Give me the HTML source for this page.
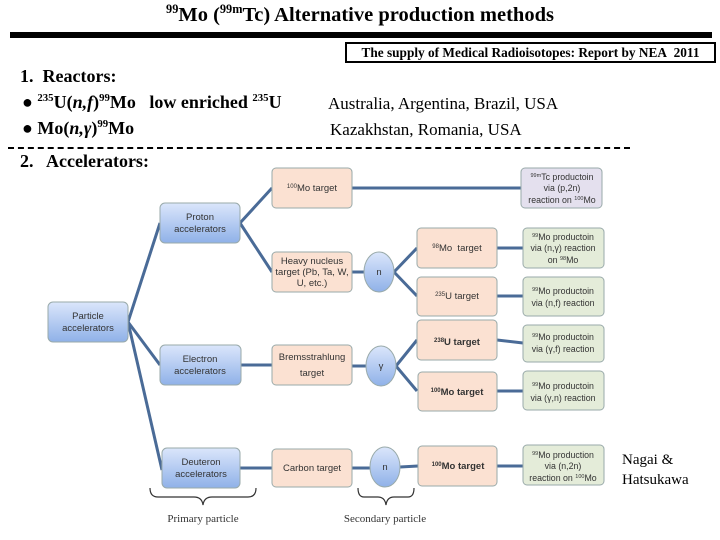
<!DOCTYPE html>
<html><head><meta charset="utf-8"><style>
body{margin:0;background:#fff;width:720px;height:540px;overflow:hidden;position:relative;font-family:"Liberation Serif",serif}
.t{position:absolute;white-space:nowrap}
sup{font-size:60%}
</style></head><body>
<div class="t" style="left:0;width:720px;text-align:center;top:2px;font-size:20.5px;font-weight:bold"><sup>99</sup>Mo (<sup>99m</sup>Tc) Alternative production methods</div>
<div style="position:absolute;left:10px;top:32px;width:702px;height:6px;background:#000"></div>
<div class="t" style="left:345px;top:42px;width:371px;height:21px;border:2px solid #000;box-sizing:border-box;font-size:13.3px;font-weight:bold;text-align:center;line-height:17px">The supply of Medical Radioisotopes: Report by NEA&nbsp; 2011</div>
<div class="t" style="left:20px;top:66px;font-size:18px;font-weight:bold">1.&nbsp; Reactors:</div>
<div class="t" style="left:22px;top:92px;font-size:18px;font-weight:bold">● <sup>235</sup>U(<i>n,f</i>)<sup>99</sup>Mo&nbsp;&nbsp; low enriched <sup>235</sup>U</div>
<div class="t" style="left:328px;top:94px;font-size:17px">Australia, Argentina, Brazil, USA</div>
<div class="t" style="left:22px;top:118px;font-size:18px;font-weight:bold">● Mo(<i>n,γ</i>)<sup>99</sup>Mo</div>
<div class="t" style="left:330px;top:120px;font-size:17px">Kazakhstan, Romania, USA</div>
<div style="position:absolute;left:8px;top:147px;width:622px;border-top:2px dashed #000"></div>
<div class="t" style="left:20px;top:151px;font-size:18px;font-weight:bold">2.&nbsp;&nbsp; Accelerators:</div>
<div class="t" style="left:622px;top:450px;font-size:15px;line-height:20px">Nagai &amp;<br>Hatsukawa</div>
<svg width="720" height="540" style="position:absolute;left:0;top:0" font-family="Liberation Sans,sans-serif" font-size="9.5" text-anchor="middle">
<defs>
<linearGradient id="b" x1="0" y1="0" x2="0" y2="1"><stop offset="0" stop-color="#dbe6fb"/><stop offset="1" stop-color="#8fb1e8"/></linearGradient>
</defs>
<g stroke="#4a6b97" stroke-width="3" fill="none">
<path d="M128 322L160 223M128 322L160 365M128 322L162 470"/>
<path d="M240 223L272 188M240 223L272 272"/>
<path d="M352 188L521 188M352 272L364 272M394 272L417 248M394 272L417 296"/>
<path d="M497 248L523 248M497 296L523 296M497 340L523 343M497 391L523 391"/>
<path d="M241 365L272 365M352 366L366 366M396 366L417 340M396 366L417 391"/>
<path d="M240 468L272 468M352 468L370 468M400 467L418 466M497 466L523 466"/>
</g>
<g stroke="#9aa" stroke-width="1">
<rect x="48" y="302" width="80" height="40" rx="5" fill="url(#b)"/>
<rect x="160" y="203" width="80" height="40" rx="5" fill="url(#b)"/>
<rect x="160" y="345" width="81" height="40" rx="5" fill="url(#b)"/>
<rect x="162" y="448" width="78" height="40" rx="5" fill="url(#b)"/>
<g fill="#fbe1d2">
<rect x="272" y="168" width="80" height="40" rx="4"/>
<rect x="272" y="252" width="80" height="40" rx="4"/>
<rect x="272" y="345" width="80" height="40" rx="4"/>
<rect x="272" y="449" width="80" height="38" rx="4"/>
<rect x="417" y="228" width="80" height="40" rx="4"/>
<rect x="417" y="277" width="80" height="39" rx="4"/>
<rect x="417" y="320" width="80" height="40" rx="4"/>
<rect x="418" y="372" width="79" height="39" rx="4"/>
<rect x="418" y="446" width="79" height="40" rx="4"/>
</g>
<rect x="521" y="168" width="81" height="40" rx="4" fill="#e4e0ee"/>
<g fill="#e4ecd9">
<rect x="523" y="228" width="81" height="40" rx="4"/>
<rect x="523" y="277" width="81" height="39" rx="4"/>
<rect x="523" y="325" width="81" height="37" rx="4"/>
<rect x="523" y="371" width="81" height="39" rx="4"/>
<rect x="523" y="445" width="81" height="40" rx="4"/>
</g>
<ellipse cx="379" cy="272" rx="15" ry="20" fill="url(#b)"/>
<ellipse cx="381" cy="366" rx="15" ry="20" fill="url(#b)"/>
<ellipse cx="385" cy="467" rx="15" ry="20" fill="url(#b)"/>
</g>
<g fill="#333">
<text x="88" y="319">Particle</text><text x="88" y="331">accelerators</text>
<text x="200" y="220">Proton</text><text x="200" y="232">accelerators</text>
<text x="200" y="362">Electron</text><text x="200" y="374">accelerators</text>
<text x="201" y="465">Deuteron</text><text x="201" y="477">accelerators</text>
<text x="312" y="191"><tspan font-size="6" dy="-3">100</tspan><tspan dy="3">Mo target</tspan></text>
<text x="312" y="264">Heavy nucleus</text><text x="312" y="275">target (Pb, Ta, W,</text><text x="312" y="286">U, etc.)</text>
<text x="312" y="360">Bremsstrahlung</text><text x="312" y="376">target</text>
<text x="312" y="471">Carbon target</text>
<text x="379" y="275">n</text><text x="381" y="369">γ</text><text x="385" y="470">n</text>
<text x="457" y="251"><tspan font-size="6" dy="-3">98</tspan><tspan dy="3">Mo&#160; target</tspan></text>
<text x="457" y="299"><tspan font-size="6" dy="-3">235</tspan><tspan dy="3">U target</tspan></text>
<text x="457" y="345" font-weight="bold"><tspan font-size="6" dy="-3">238</tspan><tspan dy="3">U target</tspan></text>
<text x="457" y="395" font-weight="bold"><tspan font-size="6" dy="-3">100</tspan><tspan dy="3">Mo target</tspan></text>
<text x="458" y="469" font-weight="bold"><tspan font-size="6" dy="-3">100</tspan><tspan dy="3">Mo target</tspan></text>
<g font-size="8.8">
<text x="562" y="180"><tspan font-size="5.5" dy="-3">99m</tspan><tspan dy="3">Tc productoin</tspan></text><text x="562" y="191">via (p,2n)</text><text x="562" y="203">reaction on <tspan font-size="5.5" dy="-3">100</tspan><tspan dy="3">Mo</tspan></text>
<text x="563" y="240"><tspan font-size="5.5" dy="-3">99</tspan><tspan dy="3">Mo productoin</tspan></text><text x="563" y="251">via (n,γ) reaction</text><text x="563" y="263">on <tspan font-size="5.5" dy="-3">98</tspan><tspan dy="3">Mo</tspan></text>
<text x="563" y="294"><tspan font-size="5.5" dy="-3">99</tspan><tspan dy="3">Mo productoin</tspan></text><text x="563" y="306">via (n,f) reaction</text>
<text x="563" y="340"><tspan font-size="5.5" dy="-3">99</tspan><tspan dy="3">Mo productoin</tspan></text><text x="563" y="352">via (γ,f) reaction</text>
<text x="563" y="389"><tspan font-size="5.5" dy="-3">99</tspan><tspan dy="3">Mo productoin</tspan></text><text x="563" y="401">via (γ,n) reaction</text>
<text x="563" y="458"><tspan font-size="5.5" dy="-3">99</tspan><tspan dy="3">Mo production</tspan></text><text x="563" y="469">via (n,2n)</text><text x="563" y="481">reaction on <tspan font-size="5.5" dy="-3">100</tspan><tspan dy="3">Mo</tspan></text>
</g>
</g>
<g stroke="#333" stroke-width="1.2" fill="none">
<path d="M150 488q0 9 8 9h36q8 0 9 8q1-8 9-8h36q8 0 8-9"/>
<path d="M358 488q0 9 6 9h14q7 0 8 8q1-8 8-8h14q6 0 6-9"/>
</g>
<g font-family="Liberation Serif,serif" font-size="11" fill="#333">
<text x="203" y="522">Primary particle</text>
<text x="385" y="522">Secondary particle</text>
</g>
</svg>
</body></html>
